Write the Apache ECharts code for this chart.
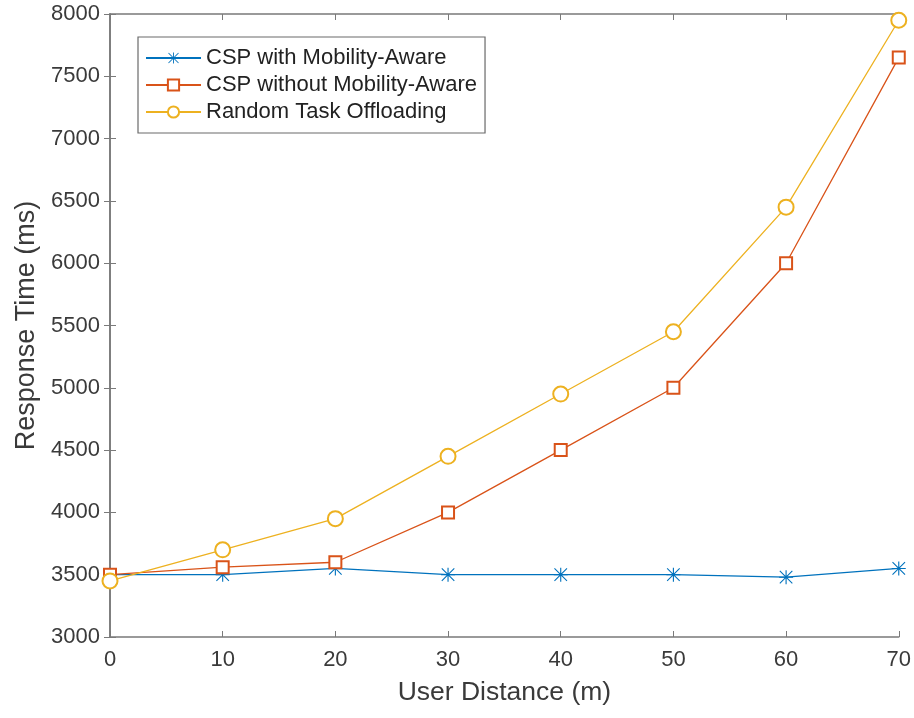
<!DOCTYPE html>
<html>
<head>
<meta charset="utf-8">
<script src="https://cdn.jsdelivr.net/npm/echarts@6/dist/echarts.min.js"></script>
<style>
  html, body { margin: 0; padding: 0; background: #fff; }
  #chart { width: 914px; height: 718px; }
</style>
</head>
<body>
<div id="chart"></div>
<script>
// User distance (m) on the x axis
const distances = [0, 10, 20, 30, 40, 50, 60, 70];

// Response time (ms) per strategy
const cspMobilityAware = [3500, 3500, 3550, 3500, 3500, 3500, 3480, 3550];
const cspNoMobility = [3500, 3560, 3600, 4000, 4500, 5000, 6000, 7650];
const randomOffloading = [3450, 3700, 3950, 4450, 4950, 5450, 6450, 7950];

const seriesNames = [
  'CSP with Mobility-Aware',
  'CSP without Mobility-Aware',
  'Random Task Offloading'
];

const FONT = 'Liberation Sans, Arial, sans-serif';
const AXIS_GRAY = '#7a7a7a';
const TEXT = '#3a3a3a';

// Asterisk marker built from four thin bars
const asterisk = 'path://M0 9.2H20V10.8H0Z M9.2 0H10.8V20H9.2Z ' +
  'M1.6 0.5L19.5 18.4L18.4 19.5L0.5 1.6Z M18.4 0.5L19.5 1.6L1.6 19.5L0.5 18.4Z';

const pairs = (ys) => distances.map((x, i) => [x, ys[i]]);

const chart = echarts.init(document.getElementById('chart'), null, { renderer: 'canvas' });

const tickStyle = { show: true, inside: true, length: 6, lineStyle: { color: AXIS_GRAY, width: 1 } };
const lineStyleAxis = { show: true, lineStyle: { color: AXIS_GRAY, width: 1.6 } };

chart.setOption({
  backgroundColor: '#fff',
  animation: false,
  grid: { left: 110, right: 15, top: 14, bottom: 81 },
  legend: {
    left: 138, top: 37,
    orient: 'vertical',
    padding: [10, 8, 10, 7],
    itemGap: 5,
    itemWidth: 55,
    itemHeight: 14,
    backgroundColor: '#fff',
    borderColor: '#6a6a6a',
    borderWidth: 1.2,
    textStyle: { fontFamily: FONT, fontSize: 22, color: '#222' },
    data: seriesNames
  },
  xAxis: [
    {
      type: 'value', min: 0, max: 70, interval: 10,
      name: 'User Distance (m)', nameLocation: 'middle', nameGap: 42,
      nameTextStyle: { fontFamily: FONT, fontSize: 26.5, color: TEXT },
      axisLine: lineStyleAxis,
      axisTick: tickStyle,
      axisLabel: { fontFamily: FONT, fontSize: 22, color: TEXT, margin: 12 },
      splitLine: { show: false }
    },
    {
      type: 'value', min: 0, max: 70, interval: 10, position: 'top',
      axisLine: lineStyleAxis,
      axisTick: tickStyle,
      axisLabel: { show: false },
      splitLine: { show: false }
    }
  ],
  yAxis: [
    {
      type: 'value', min: 3000, max: 8000, interval: 500,
      name: 'Response Time (ms)', nameLocation: 'middle', nameGap: 70,
      nameTextStyle: { fontFamily: FONT, fontSize: 27, color: TEXT },
      axisLine: lineStyleAxis,
      axisTick: tickStyle,
      axisLabel: { fontFamily: FONT, fontSize: 22, color: TEXT, margin: 10, formatter: (v) => String(v) },
      splitLine: { show: false }
    },
    {
      type: 'value', min: 3000, max: 8000, interval: 500, position: 'right',
      axisLine: lineStyleAxis,
      axisTick: tickStyle,
      axisLabel: { show: false },
      splitLine: { show: false }
    }
  ],
  series: [
    {
      name: seriesNames[0], type: 'line', xAxisIndex: 0, yAxisIndex: 0,
      data: pairs(cspMobilityAware),
      symbol: asterisk, symbolSize: 14,
      lineStyle: { color: '#0072BD', width: 1.3 },
      itemStyle: { color: '#0072BD' }
    },
    {
      name: seriesNames[1], type: 'line', xAxisIndex: 0, yAxisIndex: 0,
      data: pairs(cspNoMobility),
      symbol: 'emptyRect', symbolSize: 12,
      lineStyle: { color: '#D95319', width: 1.3 },
      itemStyle: { color: '#D95319', borderWidth: 1.3 }
    },
    {
      name: seriesNames[2], type: 'line', xAxisIndex: 0, yAxisIndex: 0,
      data: pairs(randomOffloading),
      symbol: 'emptyCircle', symbolSize: 15,
      lineStyle: { color: '#EDB120', width: 1.3 },
      itemStyle: { color: '#EDB120', borderWidth: 1.3 }
    }
  ]
});
</script>
</body>
</html>
